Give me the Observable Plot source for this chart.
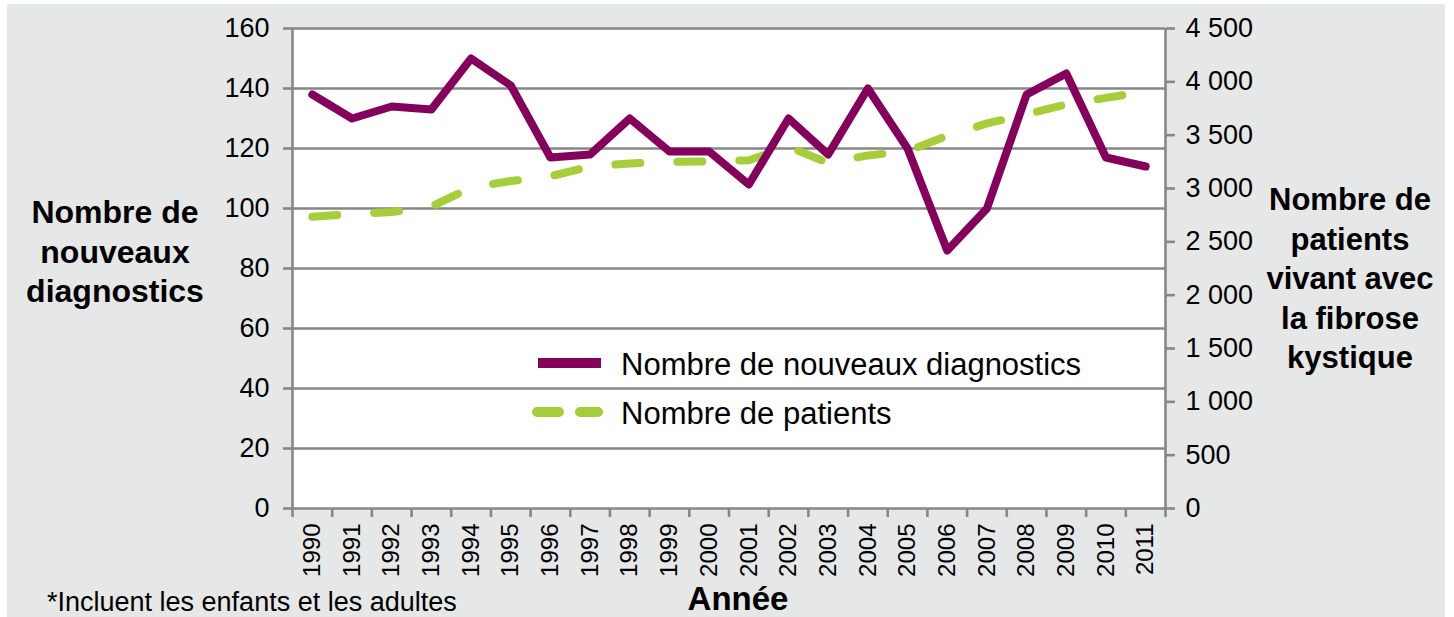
<!DOCTYPE html>
<html>
<head>
<meta charset="utf-8">
<script src="https://cdn.jsdelivr.net/npm/d3@7"></script>
<script src="https://cdn.jsdelivr.net/npm/@observablehq/plot@0.6"></script>
<style>
  html, body { margin: 0; padding: 0; background: #ffffff; }
  #page { position: relative; width: 1454px; height: 617px; overflow: hidden; font-family: "Liberation Sans", Arial, Helvetica, sans-serif; color: #000; }
  #bg { position: absolute; left: 7px; top: 4px; width: 1438px; height: 613px; background: #e6e7e7; }
  #chart { position: absolute; left: 0; top: 0; }
  .title { position: absolute; font-weight: bold; text-align: center; line-height: 39.5px; white-space: nowrap; }
  #foot { position: absolute; left: 47px; top: 591px; font-size: 27px; line-height: 22px; white-space: nowrap; }
  #legend { position: absolute; left: 0; top: 0; pointer-events: none; }
</style>
</head>
<body>
<div id="page">
  <div id="bg"></div>
  <div id="chart"></div>
  <div class="title" id="ytitle" style="left:0px; top:193px; width:230px; font-size:32px;">Nombre de<br>nouveaux<br>diagnostics</div>
  <div class="title" id="y2title" style="left:1250px; top:180px; width:200px; font-size:31px;">Nombre de<br>patients<br>vivant avec<br>la fibrose<br>kystique</div>
  <div class="title" id="xtitle" style="left:638px; top:585px; width:200px; font-size:33px; line-height:28px;">Année</div>
  <div id="foot">*Incluent les enfants et les adultes</div>
</div>
<script>
// ---- Data ----
const years = [1990, 1991, 1992, 1993, 1994, 1995, 1996, 1997, 1998, 1999, 2000,
               2001, 2002, 2003, 2004, 2005, 2006, 2007, 2008, 2009, 2010, 2011];
const newDiagnoses = [138, 130, 134, 133, 150, 141, 117, 118, 130, 119, 119,
                      108, 130, 118, 140, 120, 86, 100, 138, 145, 117, 114];
const livingPatients = [2735, 2760, 2780, 2830, 3010, 3070, 3115, 3205, 3235, 3250, 3255,
                        3265, 3390, 3240, 3310, 3350, 3495, 3610, 3695, 3790, 3850, 3910];
const leftTicks = [0, 20, 40, 60, 80, 100, 120, 140, 160];
const rightTicks = [0, 500, 1000, 1500, 2000, 2500, 3000, 3500, 4000, 4500];
const seriesNames = ["Nombre de nouveaux diagnostics", "Nombre de patients"];
const colors = ["#85005c", "#a6cd3a"];

// ---- Scales ----
const leftMax = 160, rightMax = 4500;
const k = leftMax / rightMax;
const grid = "#878787";
const fmtRight = v => d3.format(",")(Math.round(v)).replace(/,/g, "\u00a0");

const rows = years.map((yr, i) => ({year: yr, diag: newDiagnoses[i], patients: livingPatients[i] * k}));
const xMin = years[0] - 0.5, xMax = years[years.length - 1] + 0.5;
const boundaries = [...years.map(y => y - 0.5), xMax];

const chart = Plot.plot({
  width: 1454,
  height: 617,
  marginLeft: 292,
  marginRight: 289,
  marginTop: 28,
  marginBottom: 109,
  style: {background: "transparent", fontFamily: "'Liberation Sans', Arial, Helvetica, sans-serif", color: "#000", overflow: "visible"},
  x: {type: "linear", domain: [xMin, xMax]},
  y: {domain: [0, leftMax]},
  marks: [
    Plot.frame({fill: "white", stroke: null}),
    Plot.gridY(leftTicks.slice(1), {stroke: grid, strokeOpacity: 1, strokeWidth: 2.6}),
    Plot.ruleX([xMin, xMax], {stroke: grid, strokeWidth: 2.6}),
    Plot.ruleY([0], {stroke: grid, strokeWidth: 2.6}),
    Plot.axisY(leftTicks, {anchor: "left", label: null, tickSize: 9, tickPadding: 14, fontSize: 27, stroke: grid, strokeWidth: 2.6, fill: "#000"}),
    Plot.axisY(rightTicks.map(v => v * k), {anchor: "right", label: null, tickSize: 9, tickPadding: 11, fontSize: 27, stroke: grid, strokeWidth: 2.6, fill: "#000", tickFormat: d => fmtRight(d / k)}),
    Plot.axisX(years, {anchor: "bottom", label: null, tickSize: 0, tickPadding: 15, tickRotate: -90, fontSize: 24, fill: "#000", tickFormat: d => String(d)}),
    Plot.axisX(boundaries, {anchor: "bottom", label: null, tickSize: 9, stroke: grid, strokeWidth: 2.6, tickFormat: () => ""}),
    Plot.line(rows, {x: "year", y: "patients", stroke: colors[1], strokeWidth: 8, strokeDasharray: "25,37", strokeLinecap: "round", strokeLinejoin: "round"}),
    Plot.line(rows, {x: "year", y: "diag", stroke: colors[0], strokeWidth: 8, strokeLinecap: "round", strokeLinejoin: "round"})
  ]
});
document.getElementById("chart").appendChild(chart);

// ---- Legend ----
const lg = d3.select("#page").append("svg").attr("id", "legend").attr("width", 1454).attr("height", 617);
const legendRows = [
  {name: seriesNames[0], color: colors[0], dash: null, y: 363, x1: 538, x2: 601},
  {name: seriesNames[1], color: colors[1], dash: "22,21", y: 412, x1: 537, x2: 598}
];
legendRows.forEach(r => {
  lg.append("line").attr("x1", r.x1).attr("x2", r.x2).attr("y1", r.y).attr("y2", r.y)
    .attr("stroke", r.color).attr("stroke-width", 10)
    .attr("stroke-linecap", r.dash ? "round" : "butt")
    .attr("stroke-dasharray", r.dash);
  lg.append("text").attr("x", 621).attr("y", r.y + 12)
    .attr("font-family", "'Liberation Sans', Arial, Helvetica, sans-serif")
    .attr("font-size", 31).attr("fill", "#000").text(r.name);
});
</script>
</body>
</html>
